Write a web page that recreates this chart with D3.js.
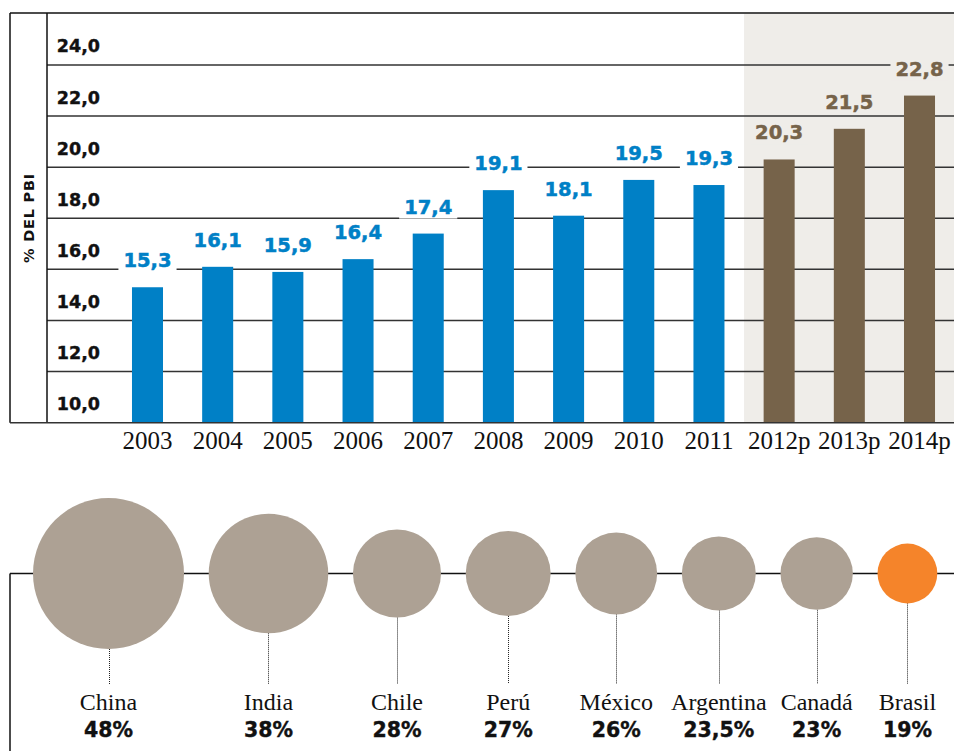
<!DOCTYPE html>
<html>
<head>
<meta charset="utf-8">
<script src="https://cdn.jsdelivr.net/npm/d3@7"></script>
<style>
  html, body { margin: 0; padding: 0; background: #fff; }
  svg { display: block; }
</style>
</head>
<body>
<svg id="chart" width="954" height="751"></svg>
<script>
// ---- Data ----
const years = ["2003","2004","2005","2006","2007","2008","2009","2010","2011","2012p","2013p","2014p"];
const values = [15.3,16.1,15.9,16.4,17.4,19.1,18.1,19.5,19.3,20.3,21.5,22.8];
const projected = ["2012p","2013p","2014p"];
const yTicks = [10,12,14,16,18,20,22,24];
const yTitle = "% DEL PBI";

const countries = ["China","India","Chile","Perú","México","Argentina","Canadá","Brasil"];
const shares = [48,38,28,27,26,23.5,23,19];
const highlightCountry = "Brasil";

// ---- Styles ----
const BLUE = "#0080c6", BROWN = "#76634a", SHADE = "#efede9", GREY = "#ada194", ORANGE = "#f5842a";
const sans = "'DejaVu Sans', sans-serif";
const serif = "'Liberation Serif', serif";

const locale = d3.formatLocale({decimal: ",", thousands: ".", grouping: [3], currency: ["", ""]});
const f1 = locale.format(".1f");
const fPct = v => (Number.isInteger(v) ? String(v) : locale.format(".1f")(v)) + "%";

const svg = d3.select("#chart");

// ---- Bar chart ----
const y = d3.scaleLinear().domain([10, 26]).range([422.7, 13.8]);
const x = d3.scaleBand().domain(years).range([112.4, 954.6]).paddingInner(0.558).paddingOuter(0.279);
const step = x.step();

// shaded projection area
const firstProj = projected[0];
const shadeX = x(firstProj) - (step - x.bandwidth()) / 2;
svg.append("rect")
  .attr("x", shadeX).attr("y", y(26))
  .attr("width", 954 - shadeX).attr("height", y(10) - y(26))
  .attr("fill", SHADE);

// gridlines
svg.append("g").selectAll("line")
  .data(yTicks.filter(d => d > 10))
  .join("line")
  .attr("x1", 47).attr("x2", 954)
  .attr("y1", d => y(d)).attr("y2", d => y(d))
  .attr("stroke", "#333").attr("stroke-width", 1.5);

// frame
svg.append("line").attr("x1", 10).attr("x2", 954).attr("y1", 13).attr("y2", 13)
  .attr("stroke", "#111").attr("stroke-width", 1.5);
svg.append("line").attr("x1", 10).attr("x2", 10).attr("y1", 13).attr("y2", y(10))
  .attr("stroke", "#111").attr("stroke-width", 1.5);
svg.append("line").attr("x1", 47).attr("x2", 47).attr("y1", 13).attr("y2", y(10))
  .attr("stroke", "#111").attr("stroke-width", 1.5);

// y tick labels
svg.append("g").selectAll("text")
  .data(yTicks)
  .join("text")
  .attr("x", 100).attr("y", d => y(d) - 12.5)
  .attr("text-anchor", "end")
  .attr("font-family", sans).attr("font-weight", "bold").attr("font-size", 17.5)
  .attr("fill", "#111").attr("stroke", "#111").attr("stroke-width", 0.4)
  .text(d => f1(d));

// y title
svg.append("text")
  .attr("transform", `translate(34,218) rotate(-90)`)
  .attr("text-anchor", "middle")
  .attr("font-family", sans).attr("font-weight", "bold").attr("font-size", 14.5)
  .attr("letter-spacing", 0.8)
  .attr("fill", "#111")
  .text(yTitle);

const data = years.map((yr, i) => ({yr, v: values[i], p: projected.includes(yr)}));

// bars
svg.append("g").selectAll("rect")
  .data(data)
  .join("rect")
  .attr("x", d => x(d.yr)).attr("width", x.bandwidth())
  .attr("y", d => y(d.v)).attr("height", d => y(10) - y(d.v))
  .attr("fill", d => d.p ? BROWN : BLUE);

// bottom axis line
svg.append("line").attr("x1", 10).attr("x2", 954).attr("y1", y(10)).attr("y2", y(10))
  .attr("stroke", "#333").attr("stroke-width", 1.5);

// value labels with background knock-out
const lbl = svg.append("g").selectAll("g")
  .data(data)
  .join("g")
  .attr("transform", d => `translate(${x(d.yr) + x.bandwidth() / 2},${y(d.v) - 20})`);
lbl.append("rect")
  .attr("fill", d => d.p ? SHADE : "#fff");
lbl.append("text")
  .attr("text-anchor", "middle")
  .attr("font-family", sans).attr("font-weight", "bold").attr("font-size", 19.5)
  .attr("fill", d => d.p ? BROWN : BLUE)
  .attr("stroke", d => d.p ? BROWN : BLUE).attr("stroke-width", 0.5)
  .text(d => f1(d.v));
lbl.each(function() {
  const g = d3.select(this);
  const bb = g.select("text").node().getBBox();
  g.select("rect").attr("x", bb.x - 5).attr("y", bb.y).attr("width", bb.width + 10).attr("height", bb.height);
});

// x tick labels
svg.append("g").selectAll("text")
  .data(years)
  .join("text")
  .attr("x", d => x(d) + x.bandwidth() / 2).attr("y", 449)
  .attr("text-anchor", "middle")
  .attr("font-family", serif).attr("font-size", 25)
  .attr("fill", "#111")
  .text(d => d);

// ---- Bubble row ----
const lineY = 573.5;
const r = d3.scaleLinear().domain([0, 48]).range([0, 75.5]);
const gap = 24.7;
let cursor = 33;
const bubbles = countries.map((c, i) => {
  const rad = r(shares[i]);
  const cx = cursor + rad;
  cursor = cx + rad + gap;
  return {c, v: shares[i], rad, cx};
});

svg.append("line").attr("x1", 10).attr("x2", 954).attr("y1", lineY).attr("y2", lineY)
  .attr("stroke", "#111").attr("stroke-width", 1.5);
svg.append("line").attr("x1", 10).attr("x2", 10).attr("y1", lineY).attr("y2", 751)
  .attr("stroke", "#111").attr("stroke-width", 1.5);

const bg = svg.append("g").selectAll("g").data(bubbles).join("g");
bg.append("line")
  .attr("x1", d => Math.round(d.cx) + 0.5).attr("x2", d => Math.round(d.cx) + 0.5)
  .attr("y1", d => lineY + d.rad).attr("y2", 684)
  .attr("stroke", "#222").attr("stroke-width", 1).attr("stroke-dasharray", "1,1");
bg.append("circle")
  .attr("cx", d => d.cx).attr("cy", lineY).attr("r", d => d.rad)
  .attr("fill", d => d.c === highlightCountry ? ORANGE : GREY);
bg.append("text")
  .attr("x", d => d.cx).attr("y", 710)
  .attr("text-anchor", "middle")
  .attr("font-family", serif).attr("font-size", 24)
  .attr("fill", "#111")
  .text(d => d.c);
bg.append("text")
  .attr("x", d => d.cx).attr("y", 737)
  .attr("text-anchor", "middle")
  .attr("font-family", sans).attr("font-weight", "bold").attr("font-size", 20.5)
  .attr("fill", "#111").attr("stroke", "#111").attr("stroke-width", 0.4)
  .text(d => fPct(d.v));
</script>
</body>
</html>
